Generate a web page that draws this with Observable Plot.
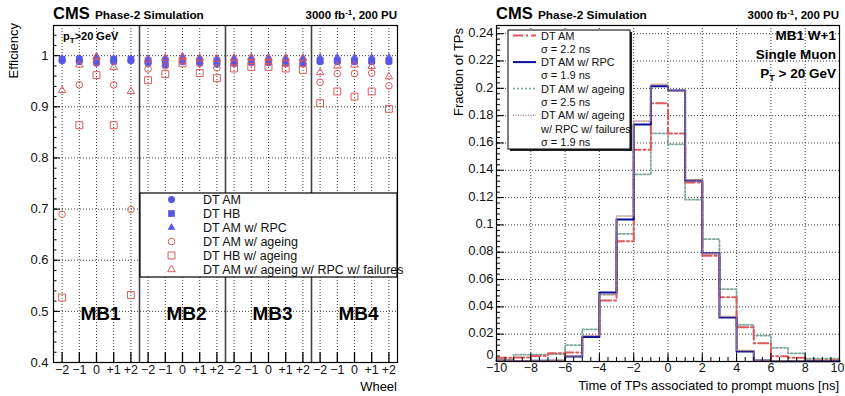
<!DOCTYPE html>
<html><head><meta charset="utf-8">
<script src="https://cdn.jsdelivr.net/npm/d3@7"></script>
<script src="https://cdn.jsdelivr.net/npm/@observablehq/plot@0.6"></script>
<style>
body{margin:0;background:#fff;}
#wrap{position:relative;width:845px;height:396px;overflow:hidden;font-family:"Liberation Sans",Arial,sans-serif;}
#left,#right,#ov{position:absolute;top:0;}
#left{left:0;} #right{left:420px;} #ov{left:0;pointer-events:none;}
</style></head><body><div id="wrap"><div id="left"></div><div id="right"></div></div>
<script>
// ---------- Left panel data ----------
const wheelLabels = ["−2","−1","0","+1","+2"];
const stationLabels = ["MB1","MB2","MB3","MB4"];
// 20 entries: MB1 W-2..W+2, MB2 W-2..W+2, MB3 ..., MB4 ...
const effDTAM = [0.990,0.988,0.985,0.988,0.990, 0.985,0.982,0.988,0.985,0.983, 0.985,0.987,0.986,0.985,0.984, 0.988,0.988,0.988,0.988,0.988];
const effDTHB = [0.993,0.993,0.990,0.993,0.993, 0.990,0.990,0.990,0.990,0.990, 0.986,0.988,0.988,0.986,0.986, 0.990,0.990,0.990,0.990,0.990];
const effDTAMRPC = [0.995,0.995,0.998,0.995,0.995, 0.995,0.996,0.998,0.996,0.995, 0.996,0.997,0.997,0.996,0.996, 0.997,0.997,0.997,0.997,0.997];
const effDTAMAge = [0.690,0.943,0.987,0.943,0.699, 0.974,0.980,0.990,0.985,0.976, 0.985,0.986,0.987,0.985,0.984, 0.948,0.965,0.965,0.966,0.941];
const effDTHBAge = [0.527,0.864,0.962,0.864,0.532, 0.952,0.964,0.985,0.966,0.956, 0.975,0.978,0.978,0.975,0.972, 0.907,0.930,0.920,0.930,0.896];
const effDTAMAgeRPCFail = [0.932,0.982,0.998,0.977,0.930, 0.992,0.995,0.998,0.995,0.993, 0.995,0.996,0.995,0.995,0.995, 0.967,0.980,0.982,0.979,0.959];
const effTicks = [0.4,0.5,0.6,0.7,0.8,0.9,1.0];
const leftNames = ["DT AM","DT HB","DT AM w/ RPC","DT AM w/ ageing","DT HB w/ ageing","DT AM w/ ageing w/ RPC w/ failures"];

// ---------- Right panel data ----------
const binLow = [-10,-9,-8,-7,-6,-5,-4,-3,-2,-1,0,1,2,3,4,5,6,7,8,9];
const fracAM = [0.0027,0.0030,0.0040,0.0060,0.0066,0.0180,0.0447,0.0880,0.1550,0.1890,0.1670,0.1310,0.0774,0.0470,0.0250,0.0134,0.0039,0.0027,0.0007,0.0010];
const fracAMRPC = [0.0005,0.0003,0.0005,0.0005,0.0037,0.0180,0.0505,0.1040,0.1735,0.2015,0.1985,0.1326,0.0793,0.0323,0.0073,0.0007,0.0002,0.0001,0.0001,0.0001];
const fracAMAge = [0.0015,0.0050,0.0050,0.0055,0.0120,0.0235,0.0490,0.0935,0.1370,0.1670,0.1590,0.1185,0.0896,0.0530,0.0268,0.0190,0.0100,0.0060,0.0020,0.0020];
const fracAMAgeRPCFail = [0.0010,0.0005,0.0005,0.0008,0.0040,0.0190,0.0490,0.1065,0.1760,0.2030,0.1980,0.1330,0.0790,0.0330,0.0080,0.0010,0.0005,0.0003,0.0002,0.0002];
const fracTicks = [0,0.02,0.04,0.06,0.08,0.1,0.12,0.14,0.16,0.18,0.2,0.22,0.24];
const timeTicks = [-10,-8,-6,-4,-2,0,2,4,6,8,10];
const rightNames = [["DT AM"],["DT AM w/ RPC"],["DT AM w/ ageing"],["DT AM w/ ageing","w/ RPC w/ failures"]];
const sigmaNs = [2.2,1.9,2.5,1.9];

const FONT = "Liberation Sans, Arial, Helvetica, sans-serif";
const BLUE = "#5656e4", RED = "#dd5a5c";
const GRID = {stroke:"#000", strokeWidth:0.9, strokeDasharray:"1,2", strokeOpacity:0.85};

// ---------- Left plot ----------
const L = {w:420,h:396,ml:53,mr:23,mt:25,mb:34, y0:0.4, y1:1.059};
const pxX_L = (L.w-L.ml-L.mr)/20, pxY_L = (L.h-L.mt-L.mb)/(L.y1-L.y0);
const centers = d3.range(20).map(i=>i+0.5);
const minorEff = d3.range(0,33).map(k=>+(0.4+k*0.02).toFixed(2)).filter(v=>v<=L.y1);
const leftSeries = [
  {values:effDTAM, symbol:"circle", filled:true, r:3.5},
  {values:effDTHB, symbol:"square", filled:true, r:3.8},
  {values:effDTAMRPC, symbol:"triangle", filled:true, r:2.9},
  {values:effDTAMAge, symbol:"circle", filled:false, r:3.3},
  {values:effDTHBAge, symbol:"square", filled:false, r:3.9},
  {values:effDTAMAgeRPCFail, symbol:"triangle", filled:false, r:2.8}
];
const left = Plot.plot({
  width:L.w, height:L.h, marginLeft:L.ml, marginRight:L.mr, marginTop:L.mt, marginBottom:L.mb,
  x:{domain:[0,20], axis:null}, y:{domain:[L.y0,L.y1], axis:null},
  style:{fontFamily:FONT, fontSize:"13px", color:"#111", background:"transparent", overflow:"visible"},
  marks:[
    Plot.ruleY(effTicks.slice(1), {y:d=>d, ...GRID}),
    Plot.ruleX(centers, {x:d=>d, ...GRID}),
    Plot.ruleX([5,10,15], {x:d=>d, stroke:"#444", strokeWidth:1.6}),
    ...leftSeries.map(s => Plot.dot(s.values.map((v,i)=>({x:i+0.5,y:v})), {
      x:"x", y:"y", symbol:s.symbol, r:s.r,
      fill: s.filled ? BLUE : "none", stroke: s.filled ? "none" : RED, strokeWidth:1, fillOpacity:0.95
    })),
    Plot.ruleY(effTicks, {y:d=>d, x1:0, x2:7/pxX_L, stroke:"#000"}),
    Plot.ruleY(minorEff, {y:d=>d, x1:0, x2:3.5/pxX_L, stroke:"#000"}),
    Plot.ruleX(centers, {x:d=>d, y1:L.y0, y2:L.y0+10/pxY_L, stroke:"#000", strokeWidth:1.3}),
    Plot.axisY({ticks:effTicks, tickSize:0, tickPadding:5, tickFormat:d=>d===1?"1":d.toFixed(1), label:null, fontSize:13}),
    Plot.axisX({ticks:centers, tickSize:0, tickPadding:3, tickFormat:d=>wheelLabels[Math.floor(d)%5], label:null, fontSize:12.5}),
    Plot.text(stationLabels, {x:(d,i)=>i*5+2.73, y:0.495, text:d=>d, fontSize:19, fontWeight:"bold", fill:"#000"}),
    Plot.frame({stroke:"#000", strokeWidth:1.2})
  ]
});
document.getElementById("left").appendChild(left);

// ---------- Right plot ----------
const R = {w:425,h:396,ml:76,mr:6,mt:25,mb:35, y1:0.246};
const pxX_R = (R.w-R.ml-R.mr)/20, pxY_R = (R.h-R.mt-R.mb)/R.y1;
const minorFrac = d3.range(0,62).map(k=>+(k*0.004).toFixed(3)).filter(v=>v<=R.y1);
const minorTime = d3.range(0,41).map(k=>-10+k*0.5);
function stepData(vals){
  const pts = binLow.map((t,i)=>({t, v:vals[i]}));
  pts.push({t:binLow[binLow.length-1]+1, v:vals[vals.length-1]});
  return pts;
}
const lastTime = timeTicks[timeTicks.length-1];
const fracFmt = d=>d===0?"0":String(+d.toFixed(2));
const right = Plot.plot({
  width:R.w, height:R.h, marginLeft:R.ml, marginRight:R.mr, marginTop:R.mt, marginBottom:R.mb,
  x:{domain:[-10,10], axis:null}, y:{domain:[0,R.y1], axis:null},
  style:{fontFamily:FONT, fontSize:"13px", color:"#111", background:"transparent", overflow:"visible"},
  marks:[
    Plot.ruleY(fracTicks.slice(1), {y:d=>d, ...GRID}),
    Plot.ruleX(timeTicks.slice(1,-1), {x:d=>d, ...GRID}),
    Plot.line(stepData(fracAMAge), {x:"t", y:"v", curve:"step-after", stroke:"#7ea89c", strokeWidth:1.8, strokeDasharray:"2,2"}),
    Plot.line(stepData(fracAM), {x:"t", y:"v", curve:"step-after", stroke:"#e0585c", strokeWidth:2, strokeDasharray:"10,3,2,3"}),
    Plot.line(stepData(fracAMRPC), {x:"t", y:"v", curve:"step-after", stroke:"#0c0c96", strokeWidth:2}),
    Plot.line(stepData(fracAMAgeRPCFail), {x:"t", y:"v", curve:"step-after", stroke:"#b58c8c", strokeWidth:1.6, strokeDasharray:"1,1.5", strokeOpacity:0.8}),
    Plot.ruleY(fracTicks, {y:d=>d, x1:-10, x2:-10+8/pxX_R, stroke:"#000"}),
    Plot.ruleY(minorFrac, {y:d=>d, x1:-10, x2:-10+4/pxX_R, stroke:"#000"}),
    Plot.ruleX(timeTicks, {x:d=>d, y1:0, y2:8/pxY_R, stroke:"#000"}),
    Plot.ruleX(minorTime, {x:d=>d, y1:0, y2:4/pxY_R, stroke:"#000"}),
    Plot.axisY({ticks:fracTicks.slice(1), tickSize:0, tickPadding:3, dy:-1, tickFormat:fracFmt, label:null, fontSize:13}),
    Plot.text([fracTicks[0]], {y:d=>d, frameAnchor:"left", dx:-3, dy:-7, textAnchor:"end", text:fracFmt, fontSize:12.5, fill:"#111"}),
    Plot.axisX({ticks:timeTicks.slice(0,-1), tickSize:0, tickPadding:2, label:null, fontSize:12.5}),
    Plot.text([lastTime], {x:d=>d, frameAnchor:"bottom", dy:2, dx:5, textAnchor:"end", lineAnchor:"top", text:d=>String(d), fontSize:12.5, fill:"#111"}),
    Plot.frame({stroke:"#000", strokeWidth:1.2})
  ]
});
document.getElementById("right").appendChild(right);

// ---------- Overlay: headers, axis titles, legends ----------
const ov = d3.select("#wrap").append("svg").attr("id","ov").attr("width",845).attr("height",396)
  .style("font-family",FONT);
function header(x0, x1){
  const g = ov.append("g");
  g.append("text").attr("x",x0).attr("y",19).attr("font-weight","bold").attr("font-size",16.5).text("CMS");
  g.append("text").attr("x",x0+42).attr("y",19).attr("font-weight","bold").attr("font-size",11.8).text("Phase-2 Simulation");
  const t = g.append("text").attr("x",x1).attr("y",19).attr("text-anchor","end").attr("font-weight","bold").attr("font-size",11.5);
  t.append("tspan").text("3000 fb");
  t.append("tspan").attr("dy",-4).attr("font-size",8).text("-1");
  t.append("tspan").attr("dy",4).text(", 200 PU");
}
header(53, 397);
header(496, 839);

// left extras
const pt = ov.append("text").attr("x",63).attr("y",40).attr("font-weight","bold").attr("font-size",11);
pt.append("tspan").text("p");
pt.append("tspan").attr("dy",3).attr("font-size",8).text("T");
pt.append("tspan").attr("dy",-3).text(">20 GeV");
ov.append("text").attr("transform","translate(18,23) rotate(-90)").attr("text-anchor","end").attr("font-size",13).text("Efficiency");
ov.append("text").attr("x",397).attr("y",391).attr("text-anchor","end").attr("font-size",13).text("Wheel");

// left legend
ov.append("rect").attr("x",140).attr("y",193).attr("width",257).attr("height",84).attr("fill","#fff").attr("stroke","#000").attr("stroke-width",1.2);
const symMap = {circle:d3.symbolCircle, square:d3.symbolSquare, triangle:d3.symbolTriangle};
leftSeries.forEach((s,i)=>{
  const yy = 199.5 + i*14;
  ov.append("path").attr("transform",`translate(171.5,${yy})`)
    .attr("d", d3.symbol(symMap[s.symbol], Math.PI*s.r*s.r)())
    .attr("fill", s.filled?BLUE:"none").attr("stroke", s.filled?"none":RED);
  ov.append("text").attr("x",203).attr("y",yy+4.5).attr("font-size",12.5).attr("fill","#111").text(leftNames[i]);
});

// right extras
ov.append("text").attr("transform","translate(463,28) rotate(-90)").attr("text-anchor","end").attr("font-size",13).text("Fraction of TPs");
ov.append("text").attr("x",839).attr("y",390).attr("text-anchor","end").attr("font-size",13).text("Time of TPs associated to prompt muons [ns]");
ov.append("text").attr("x",836).attr("y",40).attr("text-anchor","end").attr("font-weight","bold").attr("font-size",13.5).text("MB1 W+1");
ov.append("text").attr("x",836).attr("y",59).attr("text-anchor","end").attr("font-weight","bold").attr("font-size",13.5).text("Single Muon");
const pt2 = ov.append("text").attr("x",836).attr("y",78).attr("text-anchor","end").attr("font-weight","bold").attr("font-size",13.5);
pt2.append("tspan").text("P");
pt2.append("tspan").attr("dy",3).attr("font-size",9).text("T");
pt2.append("tspan").attr("dy",-3).text(" > 20 GeV");

// right legend
ov.append("rect").attr("x",510).attr("y",32).attr("width",122).attr("height",119).attr("fill","#222");
ov.append("rect").attr("x",508).attr("y",30).attr("width",122).attr("height",119).attr("fill","#fff").attr("stroke","#000").attr("stroke-width",1);
const lineStyles = [
  {stroke:"#e0585c", w:2, dash:"10,3,2,3"},
  {stroke:"#0c0c96", w:2, dash:null},
  {stroke:"#7ea89c", w:1.8, dash:"2,2"},
  {stroke:"#b58c8c", w:1.6, dash:"1,1.5"}
];
let row = 0;
rightNames.forEach((nm,i)=>{
  const yy = 35.5 + row*13.3;
  const ls = lineStyles[i];
  ov.append("line").attr("x1",513).attr("x2",536).attr("y1",yy).attr("y2",yy)
    .attr("stroke",ls.stroke).attr("stroke-width",ls.w).attr("stroke-dasharray",ls.dash);
  nm.forEach(t=>{
    ov.append("text").attr("x",541).attr("y",35.5+row*13.3+4).attr("font-size",11).attr("fill","#111").text(t);
    row++;
  });
  ov.append("text").attr("x",541).attr("y",35.5+row*13.3+4).attr("font-size",11).attr("fill","#111").text(`σ = ${sigmaNs[i]} ns`);
  row++;
});
</script></body></html>
